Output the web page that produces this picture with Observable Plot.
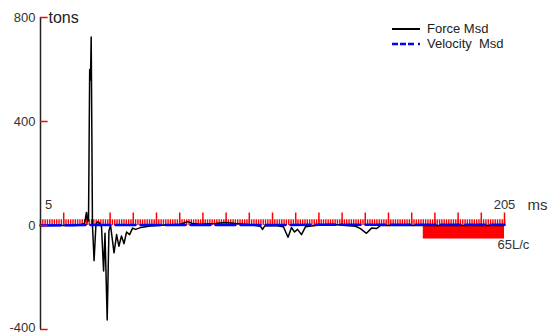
<!DOCTYPE html>
<html>
<head>
<meta charset="utf-8">
<script src="https://cdn.jsdelivr.net/npm/d3@7"></script>
<script src="https://cdn.jsdelivr.net/npm/@observablehq/plot@0.6"></script>
<style>
  html, body { margin: 0; padding: 0; background: #fff; }
  #wrap { position: relative; width: 555px; height: 335px; font-family: "Liberation Sans", Arial, sans-serif; }
  #legend { position: absolute; left: 390px; top: 21px; font-size: 13px; color: #222; line-height: 15px; }
  #legend div { display: flex; align-items: center; height: 15px; }
  #legend svg { margin-right: 6px; }
</style>
</head>
<body>
<div id="wrap"><div id="legend"></div></div>
<script>
// ---- data ----
const forceTime = [5, 20.1, 22.2, 24, 24.8, 25.3, 25.7, 26.2, 26.55, 26.85, 27.4, 28.1, 28.9, 29.6, 30.4, 31.3, 32.2, 32.8, 33.75, 34.5, 35.2, 36.7, 37.8, 38.8, 39.9, 41, 42.1, 43.4, 44.7, 46, 48.1, 50.3, 52.4, 58.9, 65.3, 68.4, 70.5, 74, 80.4, 84.7, 89, 93.4, 97.7, 99.8, 100.7, 101.6, 106.3, 109.7, 111.7, 113.2, 114.5, 115.8, 117.5, 119.2, 123.5, 130, 136.5, 140.8, 142.9, 145.5, 147.7, 149.8, 151.6, 160.2, 168.8, 205];
const forceMsd = [0, 0, 3, 8, 50, 15, 20, 600, 560, 725, 0, -135, 5, 14, 10, -5, -175, -30, -363, -20, 0, -105, -35, -80, -40, -70, -25, -35, -10, -15, -8, -5, -2, 2, 5, 15, 8, 5, 8, 12, 8, 5, 0, -3, -15, -2, 0, -5, -45, -8, -25, -15, -35, -5, 0, 5, 0, -3, -12, -30, -10, -12, 0, 0, 0, 0];
const velTime = [5, 30, 60, 100, 150, 205];
const velocityMsd = [0, 2, 2, 2, 3, 3];
const yTicks = [-400, 0, 400, 800];
const majorTicks = d3.range(15, 206, 10);
const minorTicks = d3.range(5, 206, 1);
const blockStart = 170, blockEnd = 205, blockDepth = -52;
const xStartLabel = "5", xEndLabel = "205", xUnit = "ms", yUnit = "tons", blockLabel = "65L/c";

const force = forceTime.map((t, i) => ({t, v: forceMsd[i]}));
const vel = velTime.map((t, i) => ({t, v: velocityMsd[i]}));
const yMin = d3.min(yTicks);

const chart = Plot.plot({
  width: 555, height: 335,
  marginLeft: 40, marginRight: 51, marginTop: 17, marginBottom: 6,
  x: {domain: [5, 205], axis: null},
  y: {domain: [-400, 800], axis: null},
  style: {fontFamily: "'Liberation Sans', Arial, sans-serif", background: "white", overflow: "visible"},
  marks: [
    Plot.rect([{a: blockStart, b: blockEnd, d: blockDepth}], {x1: "a", x2: "b", y1: 0, y2: "d", fill: "#ff0000"}),
    Plot.ruleX(minorTicks, {x: d => d, y1: 0, y2: 22, stroke: "#ff0000", strokeWidth: 1.4}),
    Plot.ruleX(majorTicks, {x: d => d, y1: 0, y2: 48, stroke: "#ff0000", strokeWidth: 1.5}),
    Plot.line(force, {x: "t", y: "v", stroke: "#000", strokeWidth: 1.5}),
    Plot.line(vel, {x: "t", y: "v", stroke: "#0000ff", strokeWidth: 2.5, strokeDasharray: "20,5"}),
    Plot.ruleX([5], {y1: -400, y2: 800, stroke: "#222", strokeWidth: 1.5}),
    Plot.ruleY(yTicks, {y: d => d, x1: 5, x2: 8.3, stroke: "#ff0000", strokeWidth: 1.5}),
    Plot.text(yTicks.filter(d => d !== yMin), {x: 5, y: d => d, text: d => String(d), dx: -5, textAnchor: "end", fontSize: 13, fill: "#333"}),
    Plot.text([yMin], {x: 5, y: d => d, text: d => String(d), dx: -5, dy: -2, textAnchor: "end", fontSize: 13, fill: "#333"}),
    Plot.text([yUnit], {x: 5, y: 800, dx: 8, textAnchor: "start", fontSize: 16, fill: "#222"}),
    Plot.text([xStartLabel], {x: 5, y: 78, dx: 8, textAnchor: "middle", fontSize: 13, fill: "#333"}),
    Plot.text([xEndLabel], {x: 205, y: 78, textAnchor: "middle", fontSize: 13, fill: "#333"}),
    Plot.text([xUnit], {x: 205, y: 78, dx: 23, textAnchor: "start", fontSize: 15, fill: "#333", style: "letter-spacing:3px"}),
    Plot.text([blockLabel], {x: 205, y: -73, dx: -7, textAnchor: "start", fontSize: 13, fill: "#333"})
  ]
});
chart.style.position = "absolute";
chart.style.left = "0px";
chart.style.top = "0px";
const wrap = document.getElementById("wrap");
wrap.insertBefore(chart, wrap.firstChild);

const legend = document.getElementById("legend");
legend.innerHTML = `
  <div><svg width="31" height="6"><line x1="2" y1="3" x2="30" y2="3" stroke="#000" stroke-width="2"/></svg>Force Msd</div>
  <div><svg width="31" height="6"><line x1="2" y1="3" x2="24" y2="3" stroke="#0000ff" stroke-width="2.5" stroke-dasharray="6,2"/><line x1="28" y1="3" x2="30" y2="3" stroke="#0000ff" stroke-width="2.5"/></svg>Velocity&nbsp; Msd</div>`;
</script>
</body>
</html>
